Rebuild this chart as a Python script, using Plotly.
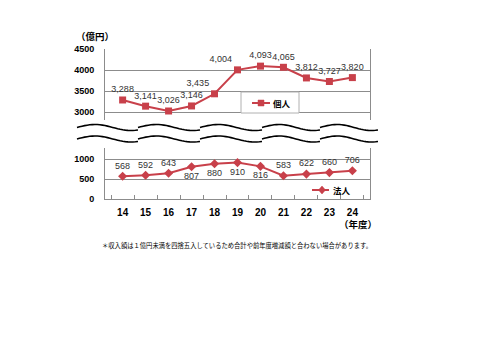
import numpy as np
import plotly.graph_objects as go

years = ["14", "15", "16", "17", "18", "19", "20", "21", "22", "23", "24"]
kojin = [3288, 3141, 3026, 3146, 3435, 4004, 4093, 4065, 3812, 3727, 3820]
hojin = [568, 592, 643, 807, 880, 910, 816, 583, 622, 660, 706]
kojin_pos = ["top center", "top center", "top center", "top center", "top left", "top left",
             "top center", "top center", "top center", "top center", "top center"]
hojin_pos = ["top center", "top center", "top center", "bottom center", "bottom center",
             "bottom center", "bottom center", "top center", "top center", "top center", "top center"]

RED = "#C8404A"
GRID = "#8c8c8c"
JP = "Noto Sans CJK JP"
LAT = "Liberation Sans"

# pixel geometry helpers (plot area: x 105..370, y 49..199)
L, R, T, B = 105, 370, 49, 199
def px(xp):
    return (xp - L) / (R - L)
def py(yp):
    return (B - yp) / (B - T)

fig = go.Figure()
fig.add_trace(go.Scatter(
    x=years, y=kojin, yaxis="y2", mode="lines+markers+text", name="個人",
    line=dict(color=RED, width=2), marker=dict(symbol="square", size=7, color=RED),
    text=[f"{v:,}" for v in kojin], textposition=kojin_pos,
    textfont=dict(family=LAT, size=9, color="#333333"),
    cliponaxis=False, showlegend=False,
))
fig.add_trace(go.Scatter(
    x=years, y=hojin, yaxis="y", mode="lines+markers+text", name="法人",
    line=dict(color=RED, width=2), marker=dict(symbol="diamond", size=7, color=RED),
    text=[str(v) for v in hojin], textposition=hojin_pos,
    textfont=dict(family=LAT, size=9, color="#333333"),
    cliponaxis=False, showlegend=False,
))

shapes = []
# wavy break lines
bounds = [77, 138, 200, 262, 320, 378]
for yc in (127.5, 139.0):
    for a, b in zip(bounds[:-1], bounds[1:]):
        t = np.linspace(0, 1, 25)
        xs = a + (b - a) * t
        ys = yc - 3.0 * np.sin(2 * np.pi * 0.85 * t)
        path = "M " + " L ".join(f"{px(x):.4f},{py(y):.4f}" for x, y in zip(xs, ys))
        shapes.append(dict(type="path", path=path, xref="paper", yref="paper",
                           line=dict(color="black", width=1.6)))

# legend 1 (個人): box, line sample, square marker
shapes.append(dict(type="rect", xref="paper", yref="paper",
                   x0=px(241), x1=px(299), y0=py(113), y1=py(92),
                   fillcolor="white", line=dict(color="#b0b0b0", width=1), layer="above"))
shapes.append(dict(type="line", xref="paper", yref="paper",
                   x0=px(252), x1=px(270), y0=py(103), y1=py(103),
                   line=dict(color=RED, width=2)))
shapes.append(dict(type="rect", xref="paper", yref="paper",
                   x0=px(258), x1=px(264), y0=py(106), y1=py(100),
                   fillcolor=RED, line=dict(color=RED, width=0.5)))
# legend 2 (法人): line sample, diamond marker
shapes.append(dict(type="line", xref="paper", yref="paper",
                   x0=px(312), x1=px(329), y0=py(190), y1=py(190),
                   line=dict(color=RED, width=2)))
dpath = (f"M {px(322):.4f},{py(186):.4f} L {px(325.5):.4f},{py(190):.4f} "
         f"L {px(322):.4f},{py(194):.4f} L {px(318.5):.4f},{py(190):.4f} Z")
shapes.append(dict(type="path", xref="paper", yref="paper", path=dpath,
                   fillcolor=RED, line=dict(color=RED, width=0.5)))

fig.update_layout(
    width=480, height=354,
    margin=dict(l=L, r=480 - R, t=T, b=354 - B, pad=0),
    paper_bgcolor="white", plot_bgcolor="white",
    showlegend=False,
    xaxis=dict(type="category", anchor="y", showline=True, linecolor=GRID, linewidth=1,
               ticks="inside", ticklen=4, tickcolor=GRID, tickson="boundaries",
               showgrid=False, ticklabelstandoff=4,
               tickfont=dict(family=LAT, size=10, color="black", weight="bold")),
    yaxis=dict(domain=[0, py(148)], range=[0, 1275], tickvals=[0, 500, 1000],
               showline=True, mirror=True, linecolor=GRID, linewidth=1,
               showgrid=True, gridcolor=GRID, gridwidth=1, zeroline=False,
               ticks="", ticklabelstandoff=8,
               tickfont=dict(family=LAT, size=9, color="black", weight="bold")),
    yaxis2=dict(domain=[py(120), 1], range=[2812, 4500], tickvals=[3000, 3500, 4000, 4500],
                anchor="x", showline=True, mirror=True, linecolor=GRID, linewidth=1,
                showgrid=True, gridcolor=GRID, gridwidth=1, zeroline=False,
                ticks="", ticklabelstandoff=8, tickformat="d",
                tickfont=dict(family=LAT, size=9, color="black", weight="bold")),
    shapes=shapes,
    annotations=[
        dict(text="個人", x=px(271), y=py(103), xref="paper", yref="paper",
             xanchor="left", yanchor="middle",
             showarrow=False, font=dict(family=JP, size=8.5, color="black", weight="bold")),
        dict(text="法人", x=px(331), y=py(190), xref="paper", yref="paper",
             xanchor="left", yanchor="middle",
             showarrow=False, font=dict(family=JP, size=8.5, color="black", weight="bold")),
        dict(text="（億円）", x=px(95), y=py(36), xref="paper", yref="paper",
             xanchor="center", yanchor="middle",
             showarrow=False, font=dict(family=JP, size=9.5, color="black", weight="bold")),
        dict(text="（年度）", x=px(358), y=py(224), xref="paper", yref="paper",
             xanchor="center", yanchor="middle",
             showarrow=False, font=dict(family=JP, size=9.5, color="black", weight="bold")),
        dict(text="＊収入額は１億円未満を四捨五入しているため合計や前年度増減額と合わない場合があります。",
             x=px(100), y=py(245), xref="paper", yref="paper", xanchor="left", yanchor="middle",
             showarrow=False, font=dict(family=JP, size=6.3, color="black")),
    ],
)

fig.write_html("out.html")
